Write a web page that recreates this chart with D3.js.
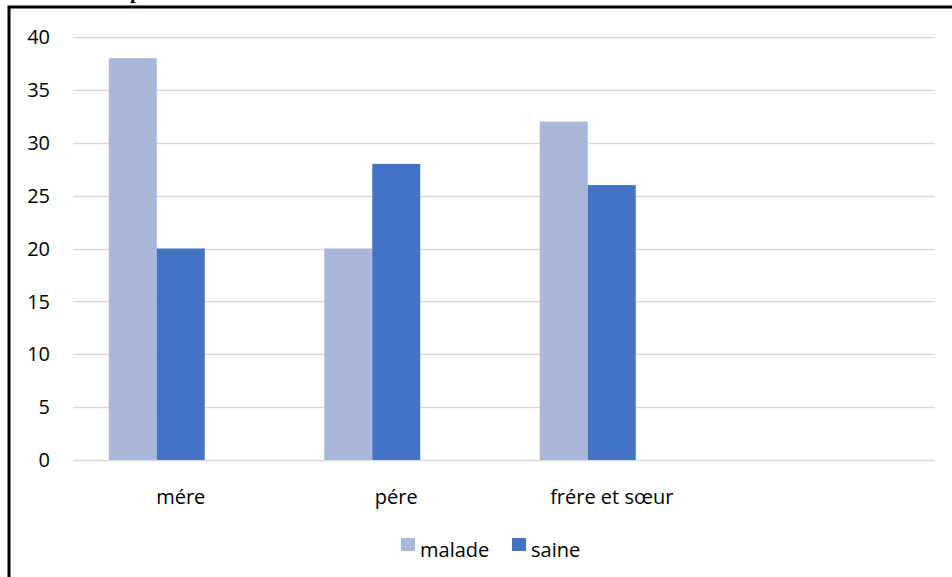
<!DOCTYPE html>
<html><head><meta charset="utf-8">
<script src="https://cdn.jsdelivr.net/npm/d3@7"></script>
<style>body{margin:0;background:#fff}svg{display:block}</style>
</head><body>
<svg id="c" width="952" height="577"></svg>
<script>
const categories = ["mére", "pére", "frére et sœur", ""];
const seriesNames = ["malade", "saine", ""];
const malade = [38, 20, 32, null];
const saine = [20, 28, 26, null];
const serie3 = [null, null, null, null];
const yTicks = [0, 5, 10, 15, 20, 25, 30, 35, 40];
const colors = ["#A9B7DB", "#4472C4", "#A5A5A5"];

const series = [malade, saine, serie3];
const svg = d3.select("#c");
const font = "'Open Sans', 'Noto Sans', sans-serif";
const fs = 20;

// partially cut title above frame
svg.append("text").attr("x", 130).attr("y", -2)
  .attr("font-family", "'Liberation Serif', serif").attr("font-weight", "bold")
  .attr("font-size", 20).attr("fill", "#000").text("p");

// frame
svg.append("path").attr("d", "M9,580 V7 H960").attr("fill", "none")
  .attr("stroke", "#000").attr("stroke-width", 3);

const y = d3.scaleLinear().domain([0, 40]).range([460, 37]);
const band = d3.scaleBand().domain(categories).range([73, 935]);
const groupW = 144;
const x1b = d3.scaleBand().domain([0, 1, 2]).range([0, groupW]);

// gridlines
svg.append("g").selectAll("line").data(yTicks).join("line")
  .attr("x1", 73).attr("x2", 935)
  .attr("y1", d => Math.round(y(d)) + 0.5).attr("y2", d => Math.round(y(d)) + 0.5)
  .attr("stroke", "#D9D9D9").attr("stroke-width", 1.5);

// y tick labels
svg.append("g").selectAll("text").data(yTicks).join("text")
  .attr("x", 50).attr("y", d => y(d)).attr("dy", "0.36em")
  .attr("text-anchor", "end").attr("font-family", font).attr("font-size", fs)
  .attr("fill", "#000").text(d => d);

// bars
series.forEach((s, si) => {
  svg.append("g").selectAll("rect").data(categories.map((c, i) => ({c, v: s[i]})).filter(d => d.v != null))
    .join("rect")
    .attr("x", d => band(d.c) + band.bandwidth() / 2 - groupW / 2 + x1b(si))
    .attr("width", x1b.bandwidth())
    .attr("y", d => y(d.v)).attr("height", d => y(0) - y(d.v))
    .attr("fill", colors[si]);
});

// category labels
svg.append("g").selectAll("text").data(categories).join("text")
  .attr("x", d => band(d) + band.bandwidth() / 2).attr("y", 504)
  .attr("text-anchor", "middle").attr("font-family", font).attr("font-size", fs)
  .attr("fill", "#000").text(d => d);

// legend
const leg = [{n: seriesNames[0], c: colors[0], x: 401}, {n: seriesNames[1], c: colors[1], x: 512}];
const lg = svg.append("g");
leg.forEach(l => {
  lg.append("rect").attr("x", l.x).attr("y", 538).attr("width", 14).attr("height", 13).attr("fill", l.c);
  lg.append("text").attr("x", l.x + 19).attr("y", 557).attr("font-family", font).attr("font-size", fs)
    .attr("fill", "#000").text(l.n);
});
</script>
</body></html>
